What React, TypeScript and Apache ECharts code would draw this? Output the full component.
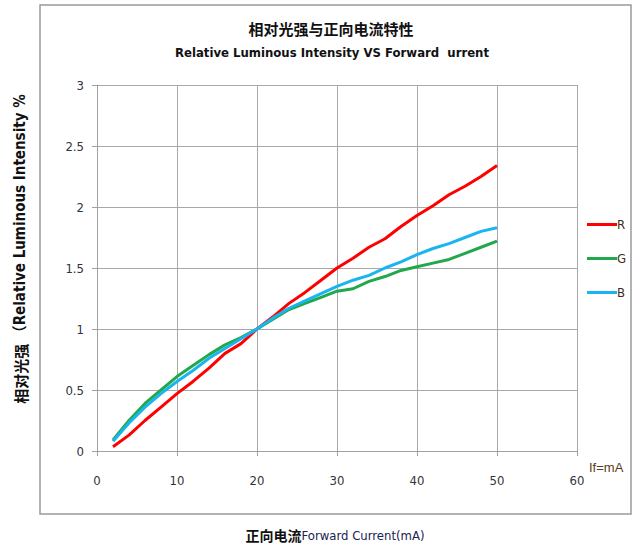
import React, { useEffect, useRef } from "react";
import * as echarts from "echarts";

const currents = [2, 4, 6, 8, 10, 12, 14, 16, 18, 20, 22, 24, 26, 28, 30, 32, 34, 36, 38, 40, 42, 44, 46, 48, 50];
const redValues = [0.035, 0.13, 0.25, 0.36, 0.47, 0.57, 0.68, 0.8, 0.88, 1.0, 1.1, 1.21, 1.3, 1.4, 1.5, 1.58, 1.67, 1.74, 1.84, 1.93, 2.01, 2.1, 2.17, 2.25, 2.34];
const greenValues = [0.09, 0.25, 0.39, 0.5, 0.61, 0.7, 0.79, 0.87, 0.93, 1.0, 1.08, 1.16, 1.21, 1.26, 1.31, 1.33, 1.39, 1.43, 1.48, 1.51, 1.54, 1.57, 1.62, 1.67, 1.72];
const blueValues = [0.08, 0.23, 0.36, 0.47, 0.57, 0.66, 0.76, 0.84, 0.92, 1.0, 1.09, 1.17, 1.23, 1.29, 1.35, 1.4, 1.44, 1.5, 1.55, 1.61, 1.66, 1.7, 1.75, 1.8, 1.83];
const seriesNames = ["R", "G", "B"];
const seriesColors = ["#ff0000", "#22a84c", "#1ab4f0"];

const narrow = "'Liberation Sans Narrow', 'DejaVu Sans Condensed', sans-serif";

export default function App() {
  const ref = useRef<HTMLDivElement>(null);
  useEffect(() => {
    if (!ref.current) return;
    const chart = echarts.init(ref.current, null, { renderer: "svg" });
    const all = [redValues, greenValues, blueValues];
    chart.setOption({
      animation: false,
      backgroundColor: "#ffffff",
      grid: { left: 97, top: 85, width: 480, height: 366, containLabel: false },
      xAxis: {
        type: "value",
        min: 0,
        max: 60,
        interval: 10,
        axisLine: { show: true, lineStyle: { color: "#a0a0a0", width: 1 } },
        axisTick: { show: true, length: 5, inside: false, lineStyle: { color: "#a0a0a0" } },
        splitLine: { show: true, lineStyle: { color: "#a8a8a8", width: 1 } },
        axisLabel: { margin: 23, fontSize: 13, color: "#333340", fontFamily: narrow },
      },
      yAxis: {
        type: "value",
        min: 0,
        max: 3,
        interval: 0.5,
        axisLine: { show: true, lineStyle: { color: "#a0a0a0", width: 1 } },
        axisTick: { show: true, length: 5, inside: false, lineStyle: { color: "#a0a0a0" } },
        splitLine: { show: true, lineStyle: { color: "#a8a8a8", width: 1 } },
        axisLabel: { margin: 13, fontSize: 13, color: "#333340", fontFamily: narrow },
      },
      legend: {
        orient: "vertical",
        left: 582,
        top: 213,
        itemWidth: 30,
        itemHeight: 14,
        itemGap: 21,
        icon: "path://M0,0 L30,0 L30,3 L0,3 Z",
        textStyle: { fontSize: 13, color: "#3a3020", fontFamily: narrow, padding: [0, 0, 0, -5] },
        data: seriesNames,
      },
      series: seriesNames.map((name, i) => ({
        name,
        type: "line",
        data: currents.map((c, k) => [c, all[i][k]]),
        symbol: "none",
        smooth: false,
        lineStyle: { color: seriesColors[i], width: 3 },
        itemStyle: { color: seriesColors[i] },
      })),
      graphic: [
        {
          type: "rect",
          shape: { x: 40, y: 5, width: 591, height: 509 },
          style: { fill: "none", stroke: "#9a9a9a", lineWidth: 1.5 },
          silent: true,
          z: -1,
        },
        {
          type: "text",
          x: 331,
          y: 28,
          style: {
            text: "相对光强与正向电流特性",
            fontSize: 15,
            fontWeight: "bold",
            fill: "#111111",
            fontFamily: "'Noto Sans CJK SC', sans-serif",
            align: "center",
            verticalAlign: "middle",
          },
        },
        {
          type: "text",
          x: 332,
          y: 52,
          style: {
            text: "Relative Luminous Intensity VS Forward  urrent",
            fontSize: 13,
            fontWeight: "bold",
            fill: "#111111",
            fontFamily: narrow,
            align: "center",
            verticalAlign: "middle",
          },
        },
        {
          type: "text",
          x: 20,
          y: 249,
          rotation: Math.PI / 2,
          style: {
            text: "{a|相对光强 }{b|（Relative Luminous Intensity %}",
            align: "center",
            verticalAlign: "middle",
            rich: {
              a: { fontSize: 15, fontWeight: "bold", fill: "#111111", fontFamily: "'Noto Sans CJK SC', sans-serif" },
              b: { fontSize: 15, fontWeight: "bold", fill: "#111111", fontFamily: "'DejaVu Sans Condensed', 'Noto Sans CJK SC', sans-serif" },
            },
          },
        },
        {
          type: "text",
          x: 335,
          y: 535,
          style: {
            text: "{a|正向电流}{b|Forward Current(mA)}",
            align: "center",
            verticalAlign: "middle",
            rich: {
              a: { fontSize: 14, fontWeight: "bold", fill: "#111111", fontFamily: "'Noto Sans CJK SC', sans-serif" },
              b: { fontSize: 13, fill: "#1a2250", fontFamily: narrow },
            },
          },
        },
        {
          type: "text",
          x: 589,
          y: 467,
          style: {
            text: "If=mA",
            fontSize: 13,
            fill: "#5a3a1a",
            fontFamily: "'Liberation Sans', sans-serif",
            align: "left",
            verticalAlign: "middle",
          },
        },
      ],
    });
    return () => chart.dispose();
  }, []);
  return <div ref={ref} style={{ width: 637, height: 547, position: "absolute", left: 0, top: 0 }} />;
}
